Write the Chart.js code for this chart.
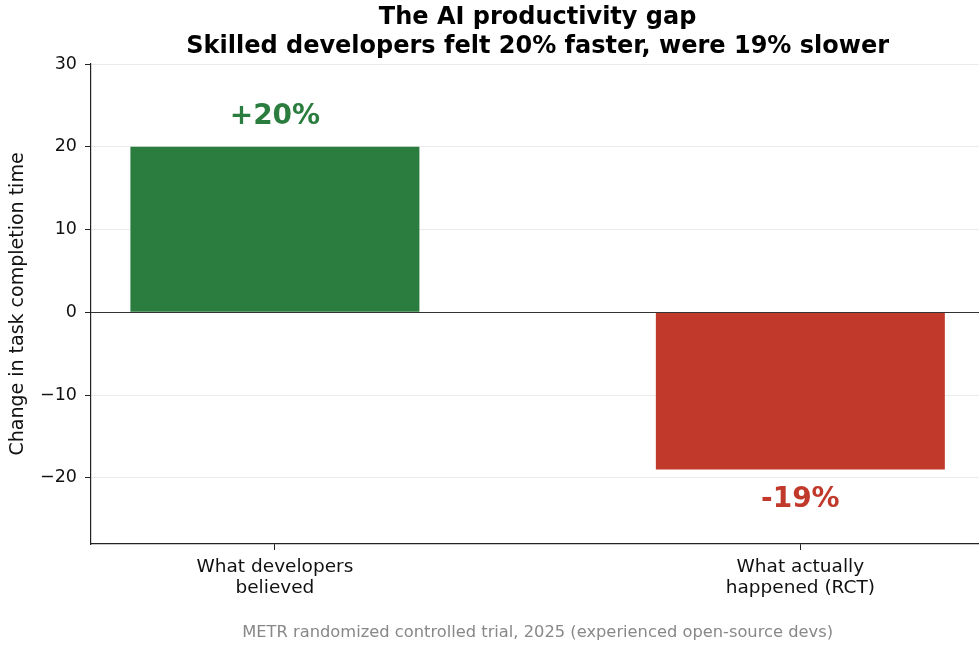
<!DOCTYPE html>
<html>
<head>
<meta charset="utf-8">
<script src="https://cdn.jsdelivr.net/npm/chart.js@4.4.0/dist/chart.umd.min.js"></script>
<style>
  html, body { margin: 0; padding: 0; background: #fff; }
  #wrap { width: 979px; height: 646px; }
</style>
</head>
<body>
<div id="wrap"><canvas id="chart" width="979" height="646"></canvas></div>
<script>
const categories = [["What developers", "believed"], ["What actually", "happened (RCT)"]];
const values = [20, -19];
const valueLabels = ["+20%", "-19%"];
const barColors = ["#2a7d3e", "#c0392b"];
const labelColors = ["#2a7d3e", "#c0392b"];
const yTicks = [-20, -10, 0, 10, 20, 30];
const yMin = -28, yMax = 30;
const titleLines = ["The AI productivity gap", "Skilled developers felt 20% faster, were 19% slower"];
const caption = "METR randomized controlled trial, 2025 (experienced open-source devs)";

const FONT = "'DejaVu Sans', sans-serif";

/* ---------- overlay texts ---------- */
const overlay = {
  id: "overlay",
  afterDatasetsDraw(chart) {
    const { ctx, chartArea } = chart;
    const x = chart.scales.x, y = chart.scales.y;
    const cx = (x.getPixelForValue(-0.35) + x.getPixelForValue(1.35)) / 2;

    // zero line on top of bars
    ctx.save();
    ctx.strokeStyle = "#333";
    ctx.lineWidth = 1.2;
    const y0 = Math.round(y.getPixelForValue(0)) + 0.5;
    ctx.beginPath();
    ctx.moveTo(chartArea.left, y0);
    ctx.lineTo(chartArea.right, y0);
    ctx.stroke();

    // value labels
    ctx.font = "bold 28px " + FONT;
    ctx.textAlign = "center";
    ctx.textBaseline = "middle";
    values.forEach((v, i) => {
      ctx.fillStyle = labelColors[i];
      const py = y.getPixelForValue(v) + (v >= 0 ? -30 : 30);
      ctx.fillText(valueLabels[i], x.getPixelForValue(i), py);
    });

    // titles
    ctx.fillStyle = "#000";
    ctx.font = "bold 24px " + FONT;
    ctx.fillText(titleLines[0], cx, 18);
    ctx.fillText(titleLines[1], cx, 47);

    // caption
    ctx.fillStyle = "#888";
    ctx.font = "16.3px " + FONT;
    ctx.fillText(caption, cx, 633);
    ctx.restore();
  }
};

new Chart(document.getElementById("chart"), {
  type: "bar",
  data: {
    datasets: [{
      data: values.map((v, i) => ({ x: i, y: v })),
      backgroundColor: barColors,
      borderWidth: 0,
      barPercentage: 0.55,
      categoryPercentage: 1
    }]
  },
  options: {
    responsive: false,
    animation: false,
    layout: { padding: { top: 64, right: 0, left: 0, bottom: 0 } },
    plugins: {
      legend: { display: false },
      tooltip: { enabled: false },
      title: { display: false }
    },
    scales: {
      x: {
        type: "linear",
        min: -0.35,
        max: 1.34,
        offset: false,
        afterBuildTicks: s => { s.ticks = categories.map((c, i) => ({ value: i })); },
        afterFit: s => { s.height = 102; },
        grid: { offset: false, drawOnChartArea: false, drawTicks: true, tickLength: 6, tickColor: "#222" },
        border: { display: true, color: "#222", width: 1.2 },
        ticks: {
          color: "#111",
          font: { family: FONT, size: 18.5, lineHeight: 1.13 },
          padding: 7,
          maxRotation: 0,
          autoSkip: false,
          callback: v => categories[v]
        }
      },
      y: {
        min: yMin,
        max: yMax,
        afterBuildTicks: s => { s.ticks = yTicks.map(v => ({ value: v })); },
        afterFit: s => { s.width = 91; },
        grid: {
          color: c => c.tick && c.tick.value === 0 ? "rgba(0,0,0,0)" : "#ebebeb",
          lineWidth: 1,
          tickLength: 6,
          tickColor: "#222"
        },
        border: { display: true, color: "#222", width: 1.2 },
        ticks: {
          color: "#111",
          font: { family: FONT, size: 17.5 },
          padding: 8,
          callback: v => (v < 0 ? "\u2212" + Math.abs(v) : String(v))
        },
        title: {
          display: true,
          text: "Change in task completion time",
          color: "#111",
          font: { family: FONT, size: 19 },
          padding: { top: 7, bottom: 0 }
        }
      }
    }
  },
  plugins: [overlay]
});
</script>
</body>
</html>
